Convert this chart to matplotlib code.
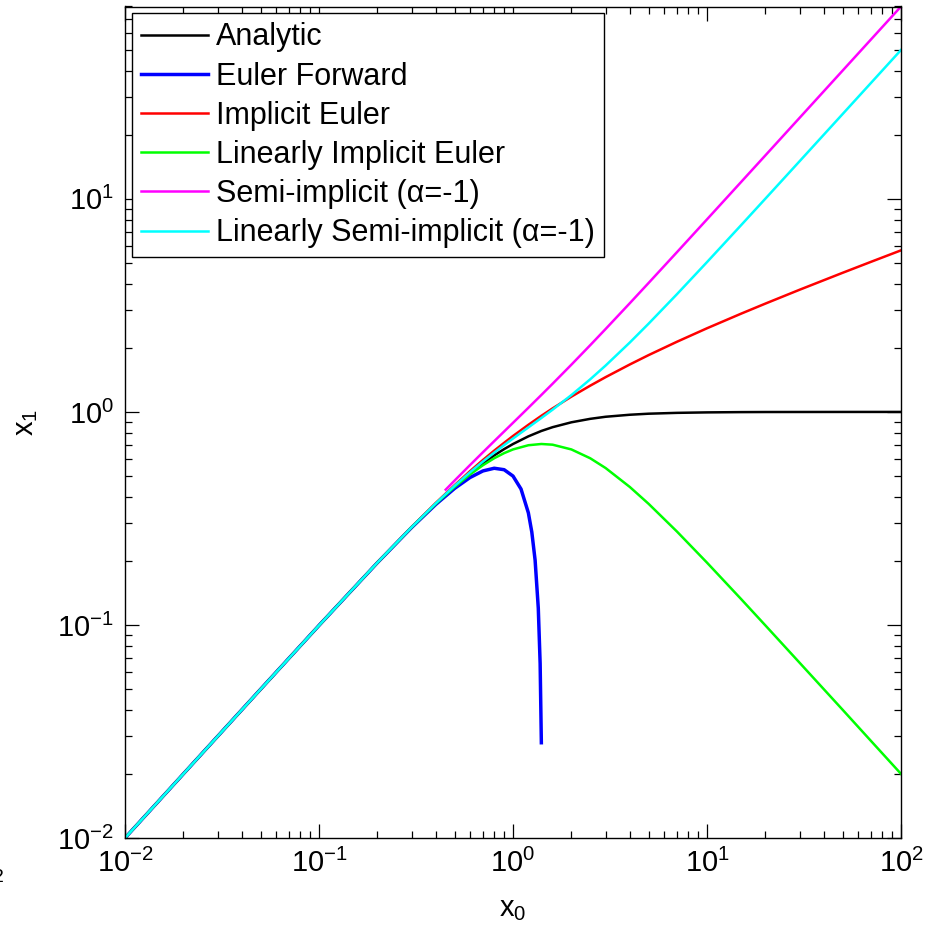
import matplotlib
matplotlib.use('Agg')
import matplotlib.pyplot as plt
from matplotlib.ticker import LogLocator, NullFormatter

plt.rcParams['font.family'] = ['Liberation Sans', 'DejaVu Sans']
plt.rcParams['mathtext.fontset'] = 'custom'
plt.rcParams['mathtext.rm'] = 'Liberation Sans'
plt.rcParams['axes.unicode_minus'] = False

# x0 grid shared by most curves
x0 = [0.01, 0.02, 0.05, 0.1, 0.2, 0.3, 0.4, 0.5, 0.6, 0.7, 0.8, 0.9, 1.0, 1.2, 1.4, 1.6,
      2.0, 2.5, 3.0, 4.0, 5.0, 7.0, 10.0, 15.0, 20.0, 30.0, 50.0, 70.0, 100.0]

analytic = [0.01, 0.02, 0.0499, 0.0995, 0.196, 0.287, 0.371, 0.447, 0.514, 0.573, 0.625, 0.669,
            0.707, 0.768, 0.814, 0.848, 0.894, 0.928, 0.949, 0.970, 0.981, 0.990, 0.995, 0.998,
            0.999, 0.9994, 0.9998, 0.9999, 1.0]

implicit_euler = [0.01, 0.02, 0.0499, 0.0995, 0.1962, 0.288, 0.374, 0.453, 0.527, 0.595, 0.658,
                  0.716, 0.771, 0.870, 0.959, 1.039, 1.180, 1.328, 1.456, 1.670, 1.848, 2.135,
                  2.470, 2.893, 3.225, 3.745, 4.498, 5.064, 5.734]

lin_implicit = [0.01, 0.02, 0.0499, 0.0995, 0.1961, 0.2871, 0.3704, 0.4444, 0.5085, 0.5622,
                0.6061, 0.6406, 0.6667, 0.6977, 0.7071, 0.7018, 0.6667, 0.6061, 0.5455, 0.4444,
                0.3704, 0.2745, 0.1961, 0.1322, 0.0995, 0.0665, 0.0400, 0.02856, 0.0200]

lin_semi = [0.01, 0.02, 0.0499, 0.0995, 0.1962, 0.2876, 0.3724, 0.450, 0.5206, 0.5849, 0.6439,
            0.6986, 0.750, 0.8459, 0.9365, 1.0247, 1.200, 1.4224, 1.650, 2.1176, 2.596, 3.570,
            5.0495, 7.533, 10.025, 15.017, 25.01, 35.007, 50.005]

# Euler forward stops where it drops to zero
x0_ef = [0.01, 0.02, 0.05, 0.1, 0.2, 0.3, 0.4, 0.5, 0.6, 0.7, 0.8, 0.9, 1.0, 1.1, 1.2, 1.25,
         1.3, 1.35, 1.38, 1.40]
euler_fwd = [0.01, 0.02, 0.04994, 0.0995, 0.196, 0.2865, 0.368, 0.4375, 0.492, 0.5285, 0.544,
             0.5355, 0.500, 0.4345, 0.336, 0.273, 0.2015, 0.120, 0.066, 0.028]

# semi-implicit only appears from x0 ~ 0.45
x0_si = [0.45, 0.5, 0.6, 0.7, 0.8, 0.9, 1.0, 1.2, 1.4, 1.6, 2.0, 2.5, 3.0, 4.0, 5.0, 7.0, 10.0,
         15.0, 20.0, 30.0, 50.0, 70.0, 100.0]
semi_implicit = [0.4318, 0.4762, 0.5628, 0.6468, 0.7289, 0.8094, 0.8889, 1.0457, 1.2012, 1.3562,
                 1.6667, 2.0567, 2.449, 3.238, 4.031, 5.622, 8.016, 12.011, 16.008, 24.005,
                 40.003, 56.0, 80.0]

fig = plt.figure(figsize=(9.29, 9.33), dpi=100)
ax = fig.add_axes([125 / 929, 1 - 838 / 933, 776 / 929, 831.5 / 933])

lw = 1.8
ax.plot(x0, analytic, color='#000000', linewidth=lw, label='Analytic')
ax.plot(x0_ef, euler_fwd, color='#0000ff', linewidth=2.5, label='Euler Forward')
ax.plot(x0, implicit_euler, color='#ff0000', linewidth=lw, label='Implicit Euler')
ax.plot(x0, lin_implicit, color='#00ff00', linewidth=lw, label='Linearly Implicit Euler')
ax.plot(x0_si, semi_implicit, color='#ff00ff', linewidth=lw, label='Semi-implicit (α=-1)')
ax.plot(x0, lin_semi, color='#00ffff', linewidth=lw, label='Linearly Semi-implicit (α=-1)')

ax.set_xscale('log')
ax.set_yscale('log')
ax.set_xlim(0.01, 100)
ax.set_ylim(0.01, 80.0)

ax.xaxis.set_major_locator(LogLocator(base=10, numticks=10))
ax.yaxis.set_major_locator(LogLocator(base=10, numticks=10))
ax.xaxis.set_minor_locator(LogLocator(base=10, subs=range(2, 10), numticks=20))
ax.yaxis.set_minor_locator(LogLocator(base=10, subs=range(2, 10), numticks=20))
ax.xaxis.set_minor_formatter(NullFormatter())
ax.yaxis.set_minor_formatter(NullFormatter())
ax.tick_params(which='both', direction='in', top=True, right=True, width=0.9)
ax.tick_params(which='major', length=10, labelsize=21, pad=8)
ax.tick_params(which='minor', length=5)
for s in ax.spines.values():
    s.set_linewidth(1.0)

ax.set_xlabel(r'$\mathregular{x_0}$', fontsize=21, labelpad=12)
ax.set_ylabel(r'$\mathregular{x_1}$', fontsize=21, labelpad=12)

leg = ax.legend(loc='upper left', fontsize=22, frameon=True, fancybox=False,
                edgecolor='k', framealpha=1, borderaxespad=0.22, handlelength=2.2,
                handletextpad=0.25, labelspacing=0.3, borderpad=0.3)
leg.get_frame().set_linewidth(1.0)

# clipped leftover subscript at the left edge
fig.text(4 / 929, 1 - 878 / 933, '2', ha='right', va='center', fontsize=14)

fig.savefig('out.png', dpi=100)
